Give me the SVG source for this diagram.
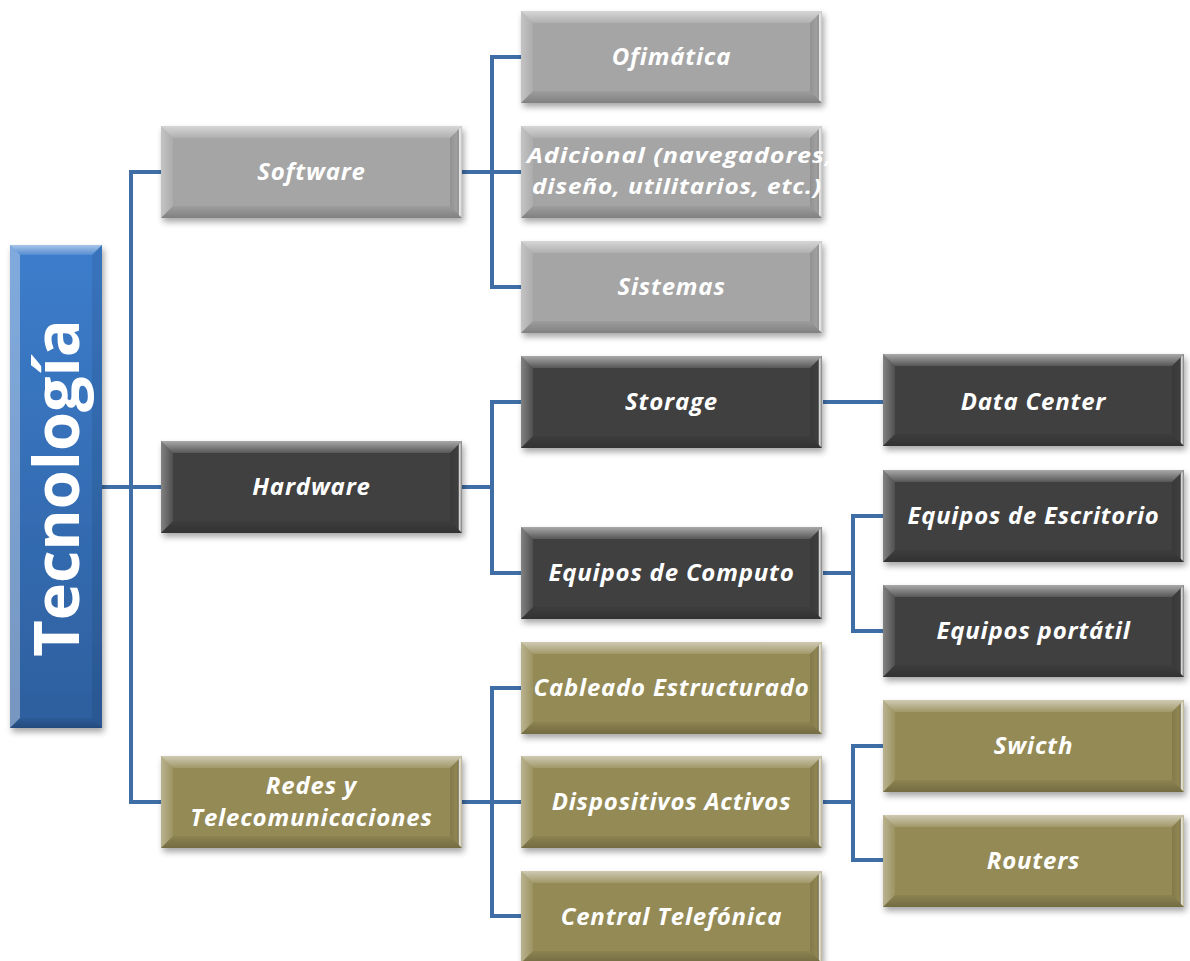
<svg xmlns="http://www.w3.org/2000/svg" xmlns:xlink="http://www.w3.org/1999/xlink" width="1190" height="961" viewBox="0 0 1190 961">
  <style>
    .lbl { font-family: "Open Sans", Lato, "Liberation Sans", sans-serif; font-weight: 700; font-style: italic; font-size: 24px; letter-spacing: 0.8px; fill: #ffffff; text-anchor: middle; }
    .lbl.sm { font-size: 22px; }
    .root-lbl { font-family: "Open Sans", Lato, "Liberation Sans", sans-serif; font-weight: 700; font-size: 63px; fill: #ffffff; text-anchor: middle; }
    .gray { fill: #a5a5a5; }
    .dark { fill: #404040; }
    .olive { fill: #948a54; }
    .link { fill: none; stroke: #3f6ea6; stroke-width: 4; stroke-linejoin: miter; }
    .box { filter: url(#shadow); }
  </style>
  <defs>
    <filter id="shadow" x="-10%" y="-10%" width="125%" height="130%">
      <feDropShadow dx="2" dy="4" stdDeviation="3" flood-color="#000" flood-opacity="0.35"/>
    </filter>
    <linearGradient id="blueFill" x1="0" y1="0" x2="0" y2="1">
      <stop offset="0" stop-color="#3d7dcc"/>
      <stop offset="1" stop-color="#2d5f9e"/>
    </linearGradient>
    <linearGradient id="topBevel" x1="0" y1="0" x2="0" y2="1">
      <stop offset="0" stop-color="#ffffff" stop-opacity="0.55"/>
      <stop offset="1" stop-color="#ffffff" stop-opacity="0.12"/>
    </linearGradient>
    <linearGradient id="leftBevel" x1="0" y1="0" x2="1" y2="0">
      <stop offset="0" stop-color="#ffffff" stop-opacity="0.35"/>
      <stop offset="1" stop-color="#ffffff" stop-opacity="0.08"/>
    </linearGradient>
    <linearGradient id="bottomBevel" x1="0" y1="0" x2="0" y2="1">
      <stop offset="0" stop-color="#000000" stop-opacity="0.05"/>
      <stop offset="1" stop-color="#000000" stop-opacity="0.22"/>
    </linearGradient>
    <linearGradient id="rightBevel" x1="0" y1="0" x2="1" y2="0">
      <stop offset="0" stop-color="#000000" stop-opacity="0.12"/>
      <stop offset="0.6" stop-color="#000000" stop-opacity="0.02"/>
      <stop offset="0.8" stop-color="#ffffff" stop-opacity="0.85"/>
      <stop offset="1" stop-color="#ffffff" stop-opacity="0.3"/>
    </linearGradient>
    <!-- bevel overlay for the standard 301x92 box -->
    <g id="bevel">
      <polygon points="0,0 301,0 289,12 12,12" fill="url(#topBevel)"/>
      <polygon points="0,0 12,12 12,80 0,92" fill="url(#leftBevel)"/>
      <polygon points="0,92 12,80 289,80 301,92" fill="url(#bottomBevel)"/>
      <polygon points="301,0 301,92 289,80 289,12" fill="url(#rightBevel)"/>
    </g>
  </defs>

  <rect width="1190" height="961" fill="#ffffff"/>

  <!-- connectors -->
  <g id="connectors">
    <path class="link" d="M102,487 H161"/>
    <path class="link" d="M161,172 H131 V802 H161"/>
    <!-- software -->
    <path class="link" d="M462,172 H521"/>
    <path class="link" d="M521,57 H492 V287 H521"/>
    <!-- hardware -->
    <path class="link" d="M462,487 H492"/>
    <path class="link" d="M521,402 H492 V573 H521"/>
    <path class="link" d="M823,402 H883"/>
    <path class="link" d="M823,573 H853"/>
    <path class="link" d="M883,516 H853 V631 H883"/>
    <!-- redes -->
    <path class="link" d="M462,802 H521"/>
    <path class="link" d="M521,688 H492 V916 H521"/>
    <path class="link" d="M823,802 H853"/>
    <path class="link" d="M883,746 H853 V860 H883"/>
  </g>

  <!-- root -->
  <g id="n-tecnologia">
    <rect class="box" x="10" y="245" width="92" height="483" fill="url(#blueFill)"/>
    <polygon points="10,245 102,245 92,255 20,255" fill="url(#topBevel)"/>
    <polygon points="10,245 20,255 20,718 10,728" fill="#ffffff" fill-opacity="0.35"/>
    <polygon points="10,728 20,718 92,718 102,728" fill="url(#bottomBevel)"/>
    <polygon points="102,245 102,728 92,718 92,255" fill="#000000" fill-opacity="0.08"/>
    <text class="root-lbl" transform="translate(79,488) rotate(-90)">Tecnología</text>
  </g>

  <!-- level 1 -->
  <g id="n-software" transform="translate(161,126)">
    <rect class="box gray" width="301" height="92"/>
    <use xlink:href="#bevel"/>
    <text class="lbl" x="150.5" y="54">Software</text>
  </g>
  <g id="n-hardware" transform="translate(161,441)">
    <rect class="box dark" width="301" height="92"/>
    <use xlink:href="#bevel"/>
    <text class="lbl" x="150.5" y="54">Hardware</text>
  </g>
  <g id="n-redes" transform="translate(161,756)">
    <rect class="box olive" width="301" height="92"/>
    <use xlink:href="#bevel"/>
    <text class="lbl" x="150.5" y="38">Redes y</text>
    <text class="lbl" x="150.5" y="70">Telecomunicaciones</text>
  </g>

  <!-- level 2 -->
  <g id="n-ofimatica" transform="translate(521,11)">
    <rect class="box gray" width="301" height="92"/>
    <use xlink:href="#bevel"/>
    <text class="lbl" x="150.5" y="54">Ofimática</text>
  </g>
  <g id="n-adicional" transform="translate(521,126)">
    <rect class="box gray" width="301" height="92"/>
    <use xlink:href="#bevel"/>
    <text class="lbl sm" x="159" y="37" textLength="306" lengthAdjust="spacingAndGlyphs">Adicional (navegadores,</text>
    <text class="lbl sm" x="156" y="68" textLength="290" lengthAdjust="spacingAndGlyphs">diseño, utilitarios, etc.)</text>
  </g>
  <g id="n-sistemas" transform="translate(521,241)">
    <rect class="box gray" width="301" height="92"/>
    <use xlink:href="#bevel"/>
    <text class="lbl" x="150.5" y="54">Sistemas</text>
  </g>
  <g id="n-storage" transform="translate(521,356)">
    <rect class="box dark" width="301" height="92"/>
    <use xlink:href="#bevel"/>
    <text class="lbl" x="150.5" y="54">Storage</text>
  </g>
  <g id="n-computo" transform="translate(521,527)">
    <rect class="box dark" width="301" height="92"/>
    <use xlink:href="#bevel"/>
    <text class="lbl" x="150.5" y="54">Equipos de Computo</text>
  </g>
  <g id="n-cableado" transform="translate(521,642)">
    <rect class="box olive" width="301" height="92"/>
    <use xlink:href="#bevel"/>
    <text class="lbl" x="150.5" y="54" textLength="276" lengthAdjust="spacingAndGlyphs">Cableado Estructurado</text>
  </g>
  <g id="n-dispositivos" transform="translate(521,756)">
    <rect class="box olive" width="301" height="92"/>
    <use xlink:href="#bevel"/>
    <text class="lbl" x="150.5" y="54">Dispositivos Activos</text>
  </g>
  <g id="n-central" transform="translate(521,871)">
    <rect class="box olive" width="301" height="92"/>
    <use xlink:href="#bevel"/>
    <text class="lbl" x="150.5" y="54">Central Telefónica</text>
  </g>

  <!-- level 3 -->
  <g id="n-datacenter" transform="translate(883,354)">
    <rect class="box dark" width="301" height="92"/>
    <use xlink:href="#bevel"/>
    <text class="lbl" x="150.5" y="56">Data Center</text>
  </g>
  <g id="n-escritorio" transform="translate(883,470)">
    <rect class="box dark" width="301" height="92"/>
    <use xlink:href="#bevel"/>
    <text class="lbl" x="150.5" y="54" textLength="252" lengthAdjust="spacingAndGlyphs">Equipos de Escritorio</text>
  </g>
  <g id="n-portatil" transform="translate(883,585)">
    <rect class="box dark" width="301" height="92"/>
    <use xlink:href="#bevel"/>
    <text class="lbl" x="150.5" y="54">Equipos portátil</text>
  </g>
  <g id="n-switch" transform="translate(883,700)">
    <rect class="box olive" width="301" height="92"/>
    <use xlink:href="#bevel"/>
    <text class="lbl" x="150.5" y="54">Swicth</text>
  </g>
  <g id="n-routers" transform="translate(883,815)">
    <rect class="box olive" width="301" height="92"/>
    <use xlink:href="#bevel"/>
    <text class="lbl" x="150.5" y="54">Routers</text>
  </g>
</svg>
